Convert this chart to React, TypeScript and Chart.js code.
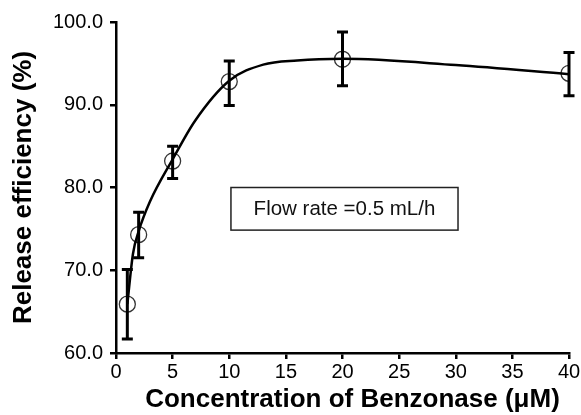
import React, { useEffect, useRef } from "react";
import { Chart, registerables } from "chart.js";

Chart.register(...registerables);

// ---- data ----
const concentrations = [1, 2, 5, 10, 20, 40];
const efficiency = [65.9, 74.3, 83.2, 92.8, 95.5, 93.8];
const errorUpper = [70.1, 77.0, 85.0, 95.3, 98.8, 96.3];
const errorLower = [61.7, 71.5, 81.1, 89.9, 92.3, 91.1];
// fitted curve
const fitX = [1, 1.5, 2, 3, 5, 7, 10, 13, 16, 20, 30, 40];
const fitY = [65.9, 72.0, 74.7, 78.3, 83.4, 88.1, 92.9, 94.85, 95.35, 95.55, 94.8, 93.7];
const annotationText = "Flow rate =0.5 mL/h";
const annotationBox = { x0: 10.15, x1: 30.2, y0: 80.0, y1: 74.85 };
const xTitle = "Concentration of Benzonase (μM)";
const yTitle = "Release efficiency (%)";

const FONT = "Arial, 'Liberation Sans', Helvetica, sans-serif";

const errorBarPlugin = {
  id: "errorBars",
  afterDatasetsDraw(chart: any) {
    const ctx = chart.ctx;
    const xs = chart.scales.x;
    const ys = chart.scales.y;
    ctx.save();
    ctx.strokeStyle = "#000";
    ctx.lineWidth = 3;
    ctx.lineCap = "butt";
    concentrations.forEach((c, i) => {
      const x = xs.getPixelForValue(c);
      const yt = ys.getPixelForValue(errorUpper[i]);
      const yb = ys.getPixelForValue(errorLower[i]);
      const half = 5.5;
      ctx.beginPath();
      ctx.moveTo(x, yt);
      ctx.lineTo(x, yb);
      ctx.moveTo(x - half, yt);
      ctx.lineTo(x + half, yt);
      ctx.moveTo(x - half, yb);
      ctx.lineTo(x + half, yb);
      ctx.stroke();
    });
    ctx.restore();
  },
};

const annotationPlugin = {
  id: "flowBox",
  afterDraw(chart: any) {
    const ctx = chart.ctx;
    const xs = chart.scales.x;
    const ys = chart.scales.y;
    const l = xs.getPixelForValue(annotationBox.x0);
    const r = xs.getPixelForValue(annotationBox.x1);
    const t = ys.getPixelForValue(annotationBox.y0);
    const b = ys.getPixelForValue(annotationBox.y1);
    ctx.save();
    ctx.fillStyle = "#fff";
    ctx.fillRect(l, t, r - l, b - t);
    ctx.strokeStyle = "#222";
    ctx.lineWidth = 1.5;
    ctx.strokeRect(l, t, r - l, b - t);
    ctx.fillStyle = "#111";
    ctx.font = `20.5px ${FONT}`;
    ctx.textAlign = "center";
    ctx.textBaseline = "middle";
    ctx.fillText(annotationText, (l + r) / 2, (t + b) / 2 + 1);

    // x axis title
    const ca = chart.chartArea;
    ctx.fillStyle = "#000";
    ctx.font = `bold 26px ${FONT}`;
    ctx.textAlign = "center";
    ctx.textBaseline = "middle";
    ctx.fillText(xTitle, (ca.left + ca.right) / 2 + 10, chart.height - 15);
    ctx.restore();
  },
};

export default function App() {
  const ref = useRef<HTMLCanvasElement | null>(null);
  useEffect(() => {
    if (!ref.current) return;
    const chart = new Chart(ref.current, {
      type: "line",
      data: {
        datasets: [
          {
            data: fitX.map((x, i) => ({ x, y: fitY[i] })),
            borderColor: "#000",
            borderWidth: 2.5,
            cubicInterpolationMode: "monotone",
            pointRadius: 0,
            fill: false,
          },
          {
            data: concentrations.map((c, i) => ({ x: c, y: efficiency[i] })),
            showLine: false,
            pointRadius: 8,
            pointBorderWidth: 1.3,
            pointBorderColor: "#333",
            pointBackgroundColor: "rgba(0,0,0,0)",
            fill: false,
          },
        ],
      },
      options: {
        responsive: false,
        animation: false,
        layout: { padding: 0 },
        plugins: { legend: { display: false }, tooltip: { enabled: false } },
        scales: {
          x: {
            type: "linear",
            min: 0,
            max: 40,
            ticks: {
              stepSize: 5,
              color: "#000",
              font: { size: 20, family: FONT },
              padding: 1,
            },
            grid: {
              drawOnChartArea: false,
              tickLength: 6,
              color: "#000",
              lineWidth: 2.5,
            },
            border: { color: "#000", width: 2.5 },
            title: { display: false, text: xTitle },
            afterFit: (s: any) => {
              s.height = 62;
              s.paddingRight = 12;
              s.paddingLeft = 0;
            },
          },
          y: {
            min: 60,
            max: 100,
            ticks: {
              stepSize: 10,
              color: "#000",
              font: { size: 20, family: FONT },
              padding: 7,
              callback: (v: any) => Number(v).toFixed(1),
            },
            grid: {
              drawOnChartArea: false,
              tickLength: 6,
              color: "#000",
              lineWidth: 2.5,
            },
            border: { color: "#000", width: 2.5 },
            title: {
              display: true,
              text: yTitle,
              color: "#000",
              font: { size: 26, weight: "bold", family: FONT },
              padding: { top: 8, bottom: 0 },
            },
            afterFit: (s: any) => {
              s.width = 116;
              s.paddingTop = 22;
              s.paddingBottom = 0;
            },
          },
        },
      },
      plugins: [errorBarPlugin, annotationPlugin],
    } as any);
    return () => chart.destroy();
  }, []);
  return (
    <div style={{ position: "absolute", left: 0, top: 0, width: 581, height: 415, background: "#fff" }}>
      <canvas ref={ref} width={581} height={415} />
    </div>
  );
}
